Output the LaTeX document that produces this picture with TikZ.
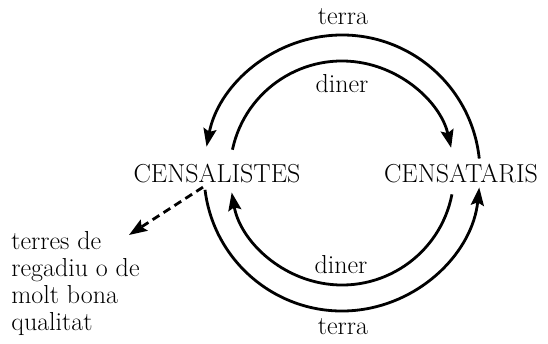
\documentclass[tikz,border=0pt]{standalone}
\usetikzlibrary{arrows.meta}

\begin{document}
\begin{tikzpicture}[x=1pt, y=1pt, line width=2.8pt,
  flow/.style={-{Stealth[length=18pt, width=13pt, inset=3pt]}},
  lbl/.style={font=\fontsize{26}{27}\selectfont}]

\useasboundingbox (-342, -170) rectangle (206, 173);

% draw the two parties
\node[lbl, anchor=base] (sal) at (-125, -9) {CENSALISTES};
\node[lbl, anchor=base] (sat) at (119, -9) {CENSATARIS};

% draw outer and inner arcs on top
\coordinate (otop) at (6 : 138);
\coordinate (itop) at (168 : 112);
\draw[flow] (otop) arc [radius = 138, start angle = 6, end angle = 169];
\draw[flow] (itop) arc [radius = 112, start angle = 168, end angle = 13];

% draw outer and inner arcs below
\coordinate (obot) at (187 : 138);
\coordinate (ibot) at (349 : 112);
\draw[flow] (obot) arc [radius = 138, start angle = 187, end angle = 354];
\draw[flow] (ibot) arc [radius = 112, start angle = 349, end angle = 190];

% draw labels
\node[lbl, anchor=base] (terraup) at (1, 148) {terra};
\node[lbl, anchor=base] (dinerup) at (0, 81) {diner};
\node[lbl, anchor=base] (dinerdown) at (-1, -100) {diner};
\node[lbl, anchor=base] (terradown) at (1, -161) {terra};

% draw land note and dashed arrow
\node[lbl, align=left, anchor=north west, inner sep=0] (land) at (-332, -57)
  {terres de\\regadiu o de\\molt bona\\qualitat};
\draw[flow, dash pattern=on 8pt off 5pt] ([xshift=-14pt]sal.south)
  -- ([shift={(-12pt, -5pt)}]land.north east);

\end{tikzpicture}
\end{document}
